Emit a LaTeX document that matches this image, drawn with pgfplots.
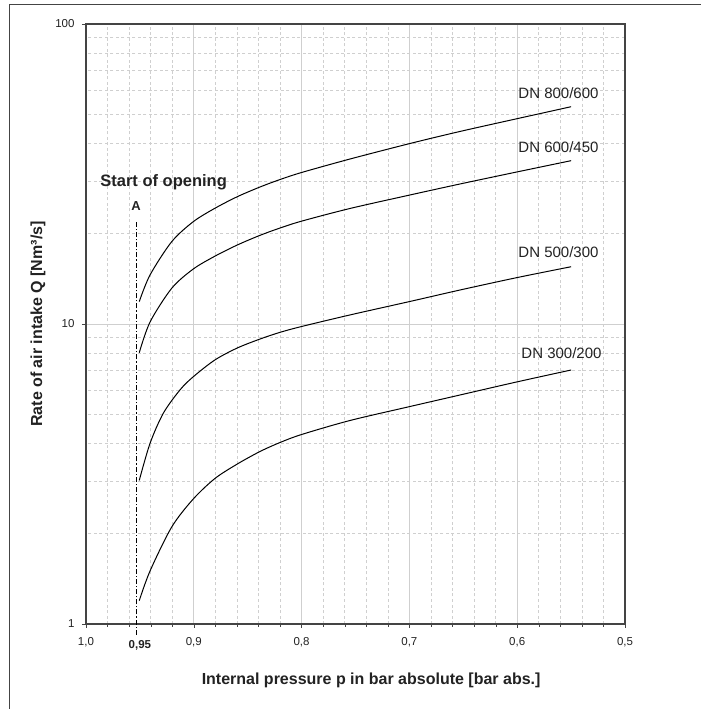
\documentclass[border=0pt]{standalone}
\usepackage{fontspec}
\setmainfont{Liberation Sans}
\usepackage{pgfplots}
\pgfplotsset{compat=1.18}
\definecolor{axisgray}{HTML}{444444}
\definecolor{gridgray}{HTML}{CFCFCF}
\definecolor{txt}{HTML}{222222}
\begin{document}
\begin{tikzpicture}
\useasboundingbox (0,0) rectangle (701pt,709pt);
\draw[line width=1pt, axisgray] (9pt,0) -- (9pt,704.5pt) -- (701pt,704.5pt);
\begin{axis}[
  at={(86pt,85pt)}, anchor=south west,
  scale only axis, width=539pt, height=600pt,
  x dir=reverse,
  xmin=0.5, xmax=1.0,
  ymode=log, ymin=1, ymax=100,
  xtick={0.5,0.6,0.7,0.8,0.9,1.0},
  minor x tick num=4,
  ytick={1,10,100},
  yticklabels={1,10,100},
  xtick pos=lower, ytick pos=left,
  tick align=outside,
  major tick length=4pt,
  minor tick length=3pt,
  every y tick/.style={axisgray},
  every x tick/.style={axisgray},
  minor y tick style={draw=none},
  /pgf/number format/assume math mode=true,
  x tick label style={/pgf/number format/fixed, /pgf/number format/fixed zerofill,
    /pgf/number format/precision=1, /pgf/number format/use comma, yshift=-6pt},
  tick label style={font=\fontsize{11.5}{12}\selectfont, text=txt},
  yticklabel style={xshift=-4pt},
  axis line style={axisgray, line width=1.2pt},
  grid=both,
  major grid style={gridgray, line width=0.7pt},
  minor grid style={gridgray, dash pattern=on 3pt off 2.5pt, line width=0.6pt},
  extra x ticks={0.95},
  extra x tick labels={\textbf{0,95}},
  extra x tick style={grid=none, major tick length=0pt, tick label style={yshift=-7pt}},
  xlabel={\textbf{Internal pressure p in bar absolute [bar abs.]}},
  ylabel={\textbf{Rate of air intake Q [Nm³/s]}},
  xlabel style={at={(axis description cs:0.529,-0.0933)}, anchor=center, font=\fontsize{16}{18}\selectfont, text=txt},
  ylabel style={at={(axis description cs:-0.089,0.5)}, anchor=center, font=\fontsize{16}{18}\selectfont, text=txt},
  clip=false,
]
\addplot[black, line width=1.1pt, dash pattern=on 5pt off 2pt on 1.2pt off 2pt] coordinates {(0.953,0.92) (0.953,22.2)};

% DN 800/600
\addplot[black, line width=1pt, smooth] coordinates {
  (0.9506,11.87) (0.9406,14.57) (0.9205,18.81) (0.9005,21.93) (0.8804,24.31)
  (0.8596,26.57) (0.8386,28.62) (0.82,30.31) (0.80,31.99) (0.7551,35.48)
  (0.6994,39.97) (0.6531,43.83) (0.6005,48.31) (0.55,53.0)};
% DN 600/450
\addplot[black, line width=1pt, smooth] coordinates {
  (0.9506,8.02) (0.9406,10.15) (0.9205,13.15) (0.9005,15.25) (0.8804,16.83)
  (0.8596,18.34) (0.8386,19.75) (0.82,20.89) (0.80,22.02) (0.7551,24.27)
  (0.6994,26.92) (0.6531,29.29) (0.6005,32.11) (0.55,35.03)};
% DN 500/300
\addplot[black, line width=1pt, smooth] coordinates {
  (0.9506,3.01) (0.9406,4.00) (0.9283,5.04) (0.9128,6.03) (0.9005,6.67)
  (0.8804,7.59) (0.8596,8.32) (0.8386,8.91) (0.82,9.38) (0.80,9.81)
  (0.7551,10.72) (0.6994,11.89) (0.6531,12.98) (0.6005,14.27) (0.55,15.52)};
% DN 300/200
\addplot[black, line width=1pt, smooth] coordinates {
  (0.9506,1.196) (0.9406,1.502) (0.9205,2.105) (0.9005,2.61) (0.8804,3.055)
  (0.8596,3.415) (0.8386,3.758) (0.82,4.027) (0.80,4.282) (0.7551,4.768)
  (0.6994,5.309) (0.6531,5.799) (0.6005,6.409) (0.55,7.025)};

\node[anchor=east, font=\fontsize{15}{16}\selectfont, text=txt] at (axis cs:0.5213,58.7) {DN 800/600};
\node[anchor=east, font=\fontsize{15}{16}\selectfont, text=txt] at (axis cs:0.5213,39.0) {DN 600/450};
\node[anchor=east, font=\fontsize{15}{16}\selectfont, text=txt] at (axis cs:0.5213,17.3) {DN 500/300};
\node[anchor=east, font=\fontsize{15}{16}\selectfont, text=txt] at (axis cs:0.5185,7.99) {DN 300/200};
\node[font=\bfseries\fontsize{16.5}{18}\selectfont, text=txt] at (axis cs:0.928,29.7) {Start of opening};
\node[font=\bfseries\fontsize{13}{14}\selectfont, text=txt] at (axis cs:0.9536,24.7) {A};
\end{axis}
\end{tikzpicture}
\end{document}
